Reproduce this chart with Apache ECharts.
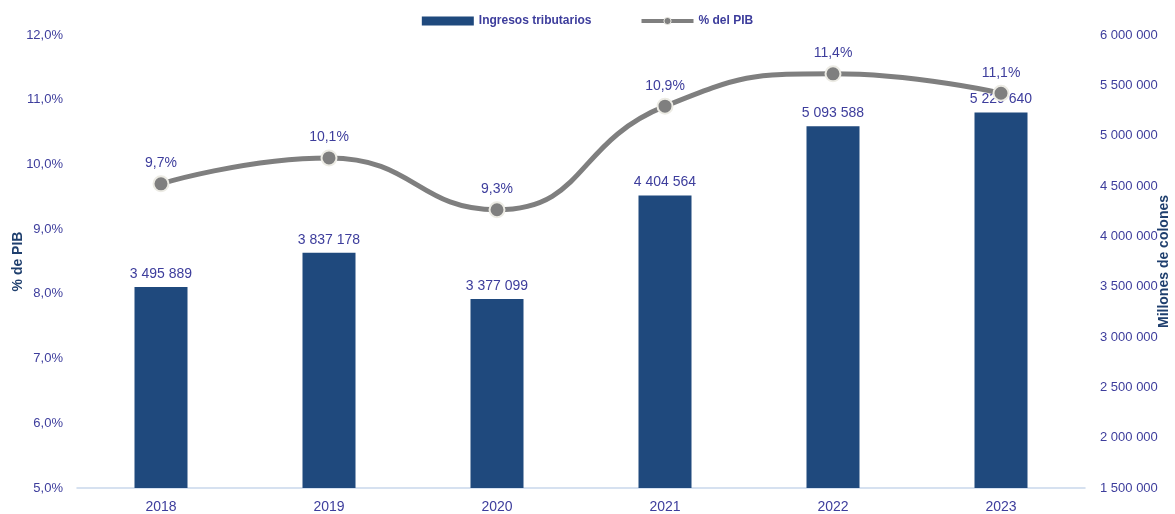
<!DOCTYPE html>
<html>
<head>
    <meta charset="utf-8">
    <script src="https://cdn.jsdelivr.net/npm/echarts@6/dist/echarts.min.js"></script>
</head>
<body style="margin:0">
<div id="main" style="width:1175px;height:514px;"></div>
<script type="text/javascript">
    var years = ['2018', '2019', '2020', '2021', '2022', '2023'];
    var ingresos = [3495889, 3837178, 3377099, 4404564, 5093588, 5229640];
    var pctPib = [9.7, 10.1, 9.3, 10.9, 11.4, 11.1];

    var txt = '#3d3d9c';
    var font = 'Liberation Sans';

    // 1234567 -> "1 234 567"
    function miles(v) {
        return String(Math.round(v)).replace(/\B(?=(\d{3})+(?!\d))/g, ' ');
    }
    function pct(v) {
        return v.toFixed(1).replace('.', ',') + '%';
    }

    var myChart = echarts.init(document.getElementById('main'));
    myChart.setOption({
        backgroundColor: '#fff',
        textStyle: {fontFamily: font},
        legend: {
            top: 10,
            left: 'center',
            itemGap: 48,
            itemWidth: 52,
            itemHeight: 9,
            textStyle: {color: txt, fontSize: 12, fontWeight: 'bold', fontFamily: font},
            data: [
                {name: 'Ingresos tributarios', icon: 'rect'},
                {name: '% del PIB', lineStyle: {width: 4}, itemStyle: {borderWidth: 1}}
            ]
        },
        grid: {left: 77, right: 90, top: 35, bottom: 26, outerBoundsMode: 'none', containLabel: false},
        xAxis: {
            type: 'category',
            data: years,
            axisLine: {lineStyle: {color: '#c9d8ec', width: 1.5}},
            axisTick: {show: false},
            axisLabel: {color: txt, fontSize: 14, margin: 12}
        },
        yAxis: [{
            type: 'value',
            min: 5, max: 12, interval: 1,
            name: '% de PIB',
            nameLocation: 'middle',
            nameGap: 52,
            nameMoveOverlap: false,
            nameTextStyle: {color: '#1f3f6e', fontWeight: 'bold', fontSize: 14},
            splitLine: {show: false},
            axisLine: {show: false},
            axisTick: {show: false},
            axisLabel: {color: txt, fontSize: 13, margin: 14, formatter: pct}
        }, {
            type: 'value',
            min: 1500000, max: 6000000, interval: 500000,
            name: 'Millones de colones',
            nameLocation: 'middle',
            nameGap: 72,
            nameMoveOverlap: false,
            nameRotate: 90,
            nameTextStyle: {color: '#1f3f6e', fontWeight: 'bold', fontSize: 14},
            splitLine: {show: false},
            axisLine: {show: false},
            axisTick: {show: false},
            axisLabel: {color: txt, fontSize: 13, margin: 15, formatter: miles}
        }],
        series: [{
            name: 'Ingresos tributarios',
            type: 'bar',
            yAxisIndex: 1,
            data: ingresos,
            barWidth: 53,
            itemStyle: {color: '#1f497d'},
            label: {
                show: true, position: 'top', distance: 6,
                color: txt, fontSize: 14,
                formatter: function (p) { return miles(p.value); }
            }
        }, {
            name: '% del PIB',
            type: 'line',
            yAxisIndex: 0,
            data: pctPib,
            smooth: 0.5,
            symbol: 'circle',
            symbolSize: 15,
            lineStyle: {color: '#7f7f7f', width: 5},
            itemStyle: {color: '#7f7f7f', borderColor: '#ecebe4', borderWidth: 2},
            label: {
                show: true, position: 'top', distance: 5,
                color: txt, fontSize: 14,
                formatter: function (p) { return pct(p.value); }
            },
            z: 5
        }]
    });
</script>
</body>
</html>
